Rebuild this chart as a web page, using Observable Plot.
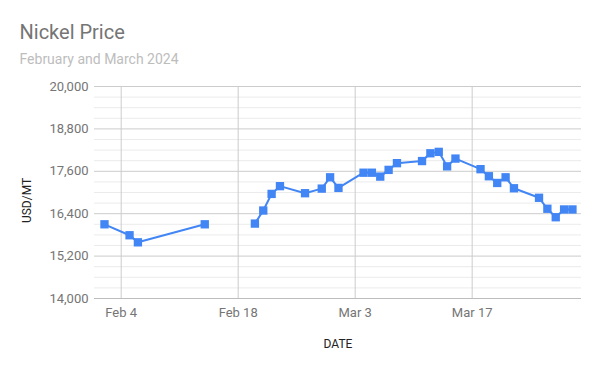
<!DOCTYPE html>
<html>
<head>
<meta charset="utf-8">
<script src="https://cdn.jsdelivr.net/npm/d3@7"></script>
<script src="https://cdn.jsdelivr.net/npm/@observablehq/plot@0.6"></script>
<style>
  html, body { margin: 0; padding: 0; background: #fff; }
  #chart { width: 600px; height: 371px; }
</style>
</head>
<body>
<div id="chart"></div>
<script>
const dates = ["2024-02-02","2024-02-05","2024-02-06","2024-02-14","2024-02-15","2024-02-20","2024-02-21","2024-02-22","2024-02-23","2024-02-26","2024-02-28","2024-02-29","2024-03-01","2024-03-04","2024-03-05","2024-03-06","2024-03-07","2024-03-08","2024-03-11","2024-03-12","2024-03-13","2024-03-14","2024-03-15","2024-03-18","2024-03-19","2024-03-20","2024-03-21","2024-03-22","2024-03-25","2024-03-26","2024-03-27","2024-03-28","2024-03-29"];
const prices = [16100,15790,15590,16100,null,16120,16490,16960,17180,16980,17110,17430,17130,17560,17560,17450,17640,17830,17890,18110,18150,17740,17960,17660,17460,17270,17430,17120,16850,16540,16300,16520,16520];
const yTicks = [14000,15200,16400,17600,18800,20000];
const yMinorTicks = [14300,14600,14900,15500,15800,16100,16700,17000,17300,17900,18200,18500,19100,19400,19700];
const xTicks = ["2024-02-04","2024-02-18","2024-03-03","2024-03-17"];
const titleText = "Nickel Price";
const subtitleText = "February and March 2024";
const yLabel = "USD/MT";
const xLabel = "DATE";

const data = dates.map((d, i) => ({date: new Date(d + "T00:00:00Z"), price: prices[i]}));
const xTickDates = xTicks.map(d => new Date(d + "T00:00:00Z"));

const chart = Plot.plot({
  width: 600,
  height: 371,
  marginLeft: 94,
  marginRight: 19,
  marginTop: 86,
  marginBottom: 73,
  style: {fontFamily: "Roboto, sans-serif", fontSize: "13px", color: "#757575", background: "#fff"},
  x: {type: "utc", domain: [new Date(Date.UTC(2024,0,31,19,20)), new Date(Date.UTC(2024,2,30,2,0))]},
  y: {domain: [14000, 20000]},
  marks: [
    Plot.ruleY(yMinorTicks, {stroke: "#ebebeb", strokeWidth: 1}),
    Plot.ruleY(yTicks, {stroke: "#cccccc", strokeWidth: 1}),
    Plot.ruleX(xTickDates, {stroke: "#cccccc", strokeWidth: 1}),
    Plot.ruleY([14000], {stroke: "#bdbdbd", strokeWidth: 1}),
    Plot.axisY({ticks: yTicks, tickFormat: d3.format(","), tickSize: 0, tickPadding: 6, label: null, fontSize: 13}),
    Plot.axisX({ticks: xTickDates, tickFormat: d3.utcFormat("%b %-d"), tickSize: 0, tickPadding: 9, label: null, fontSize: 13}),
    Plot.line(data, {x: "date", y: "price", stroke: "#4285f4", strokeWidth: 2}),
    Plot.dot(data.filter(d => d.price != null), {x: "date", y: "price", symbol: "square", r: 4.7, fill: "#4285f4", stroke: null}),
    Plot.text([titleText], {frameAnchor: "top-left", dx: -75, dy: -48, text: d => d, textAnchor: "start", lineAnchor: "bottom", fontSize: 20, fill: "#757575"}),
    Plot.text([subtitleText], {frameAnchor: "top-left", dx: -75, dy: -22.5, text: d => d, textAnchor: "start", lineAnchor: "bottom", fontSize: 14, fill: "#bdbdbd"}),
    Plot.text([yLabel], {frameAnchor: "left", dx: -67, dy: 8, text: d => d, rotate: -90, textAnchor: "middle", lineAnchor: "middle", fontSize: 12, fill: "#222222"}),
    Plot.text([xLabel], {frameAnchor: "bottom", dx: 0, dy: 46, text: d => d, textAnchor: "middle", lineAnchor: "middle", fontSize: 12, fill: "#222222"})
  ]
});
document.getElementById("chart").appendChild(chart);
</script>
</body>
</html>
